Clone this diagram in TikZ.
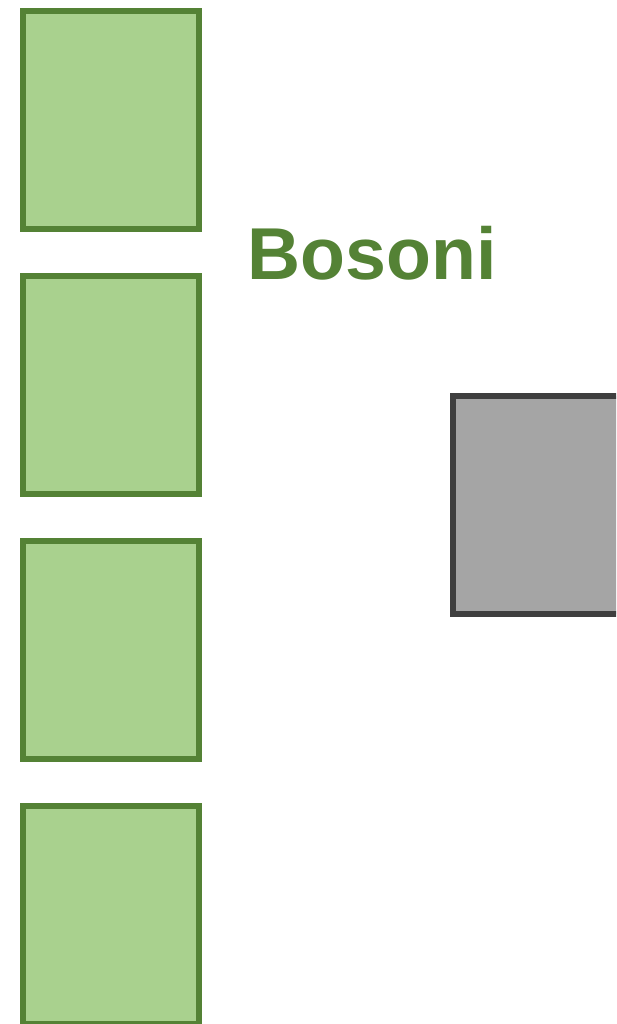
\documentclass[tikz,border=0pt]{standalone}
\usepackage{fontspec}
\setmainfont{Liberation Sans}
\definecolor{gfill}{HTML}{A9D18E}
\definecolor{gline}{HTML}{548235}
\definecolor{kfill}{HTML}{A5A5A5}
\definecolor{kline}{HTML}{3F3F3F}
\begin{document}
\begin{tikzpicture}[x=1pt,y=-1pt,
  gbox/.style={draw=gline,fill=gfill,line width=6pt},
  kbox/.style={draw=kline,fill=kfill,line width=6pt},
  lbl/.style={text=gline,font=\fontsize{73.5}{80}\selectfont\bfseries,inner sep=0pt,anchor=base west}]
\clip (0,0) rectangle (616,1024);
\useasboundingbox (0,0) rectangle (616,1024);
\fill[white] (0,0) rectangle (616,1024);
\draw[gbox] (23.3,11) rectangle (199.3,228.7);
\draw[gbox] (23.3,276) rectangle (199.3,494);
\draw[gbox] (23.3,541) rectangle (199.3,759);
\draw[gbox] (23.3,806) rectangle (199.3,1024);
\draw[kbox] (453.3,396) rectangle (629.3,614);
\node[lbl] (t) at (247.3,279.3) {Bosoni};
\end{tikzpicture}
\end{document}
